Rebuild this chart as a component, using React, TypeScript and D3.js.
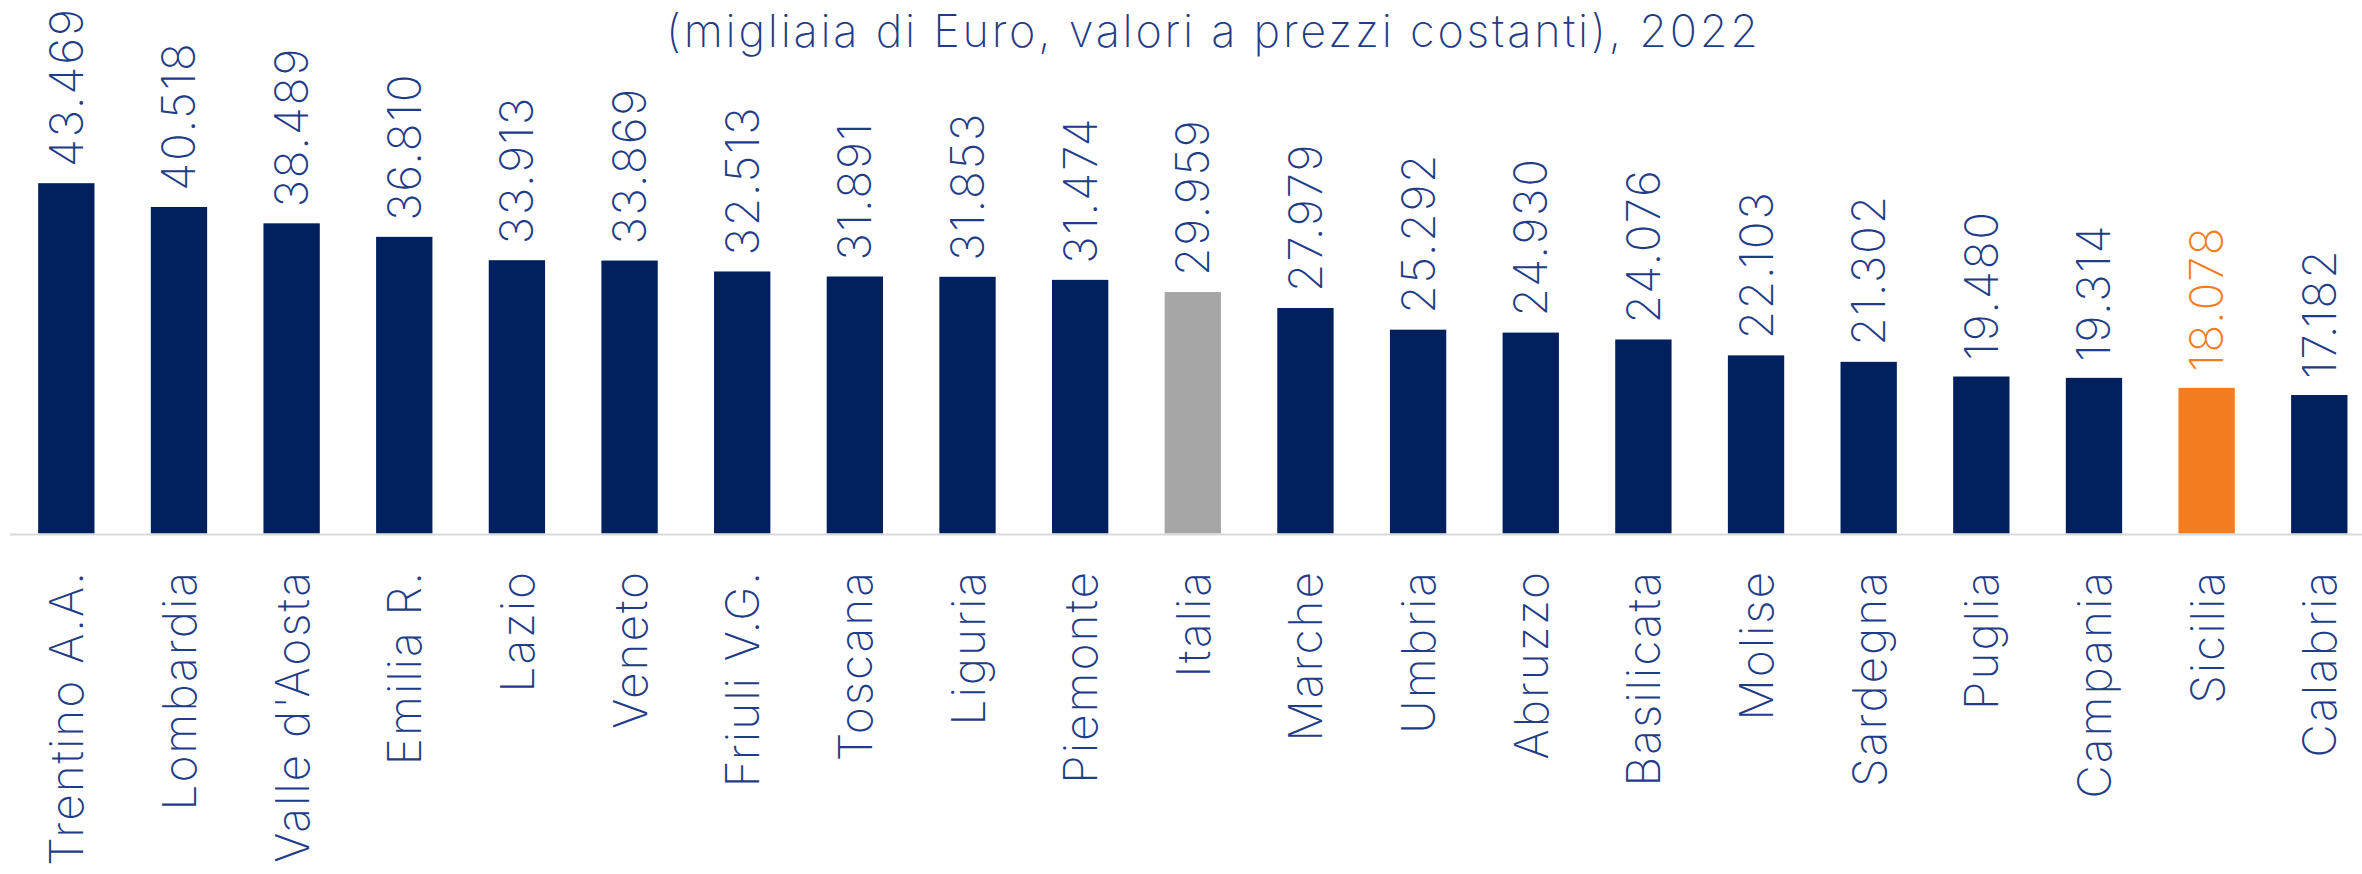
import React, { useLayoutEffect } from "react";
import * as d3 from "d3";

const categories = [
  "Trentino A.A.", "Lombardia", "Valle d'Aosta", "Emilia R.", "Lazio", "Veneto",
  "Friuli V.G.", "Toscana", "Liguria", "Piemonte", "Italia", "Marche", "Umbria",
  "Abruzzo", "Basilicata", "Molise", "Sardegna", "Puglia", "Campania", "Sicilia", "Calabria",
];
const values = [
  43469, 40518, 38489, 36810, 33913, 33869, 32513, 31891, 31853, 31474, 29959,
  27979, 25292, 24930, 24076, 22103, 21302, 19480, 19314, 18078, 17182,
];
const subtitle = "(migliaia di Euro, valori a prezzi costanti), 2022";
const highlightGrey = "Italia";
const highlightOrange = "Sicilia";

const W = 2362;
const H = 874;
const NAVY = "#021F5E";
const GREY = "#A6A6A6";
const ORANGE = "#F47C20";
const TEXT = "#1F3C86";
const FONT = "Inter, 'Open Sans', sans-serif";

const it = d3.formatLocale({ decimal: ",", thousands: ".", grouping: [3], currency: ["€", ""] });
const fmt = it.format(",d");

export default function App() {
  useLayoutEffect(() => {
    document.body.style.margin = "0";
    document.body.style.overflow = "hidden";
  }, []);

  const baseY = 533.5;
  const x = d3.scaleBand<string>().domain(categories).range([10, 2375.6]).paddingInner(0.5).paddingOuter(0.25);
  const y = d3.scaleLinear().domain([0, 66200]).range([baseY, 0]);
  const bw = x.bandwidth();

  const barColor = (c: string) => (c === highlightGrey ? GREY : c === highlightOrange ? ORANGE : NAVY);
  const labelColor = (c: string) => (c === highlightOrange ? ORANGE : TEXT);

  return (
    <svg width={W} height={H} style={{ display: "block", background: "#fff" }} fontFamily={FONT}>
      <text
        x={1212}
        y={47}
        textAnchor="middle"
        fontSize={45}
        fontWeight={200}
        fill={TEXT}
        textLength={1092}
        lengthAdjust="spacing"
      >
        {subtitle}
      </text>
      {categories.map((c, i) => {
        const cx = (x(c) as number) + bw / 2;
        const top = y(values[i]);
        return (
          <g key={c}>
            <rect x={x(c)} y={top} width={bw} height={baseY - top} fill={barColor(c)} />
            <text
              transform={`translate(${cx + 16.5},${top - 16}) rotate(-90)`}
              fontSize={46}
              fontWeight={200}
              letterSpacing={1.8}
              fill={labelColor(c)}
              textAnchor="start"
            >
              {fmt(values[i])}
            </text>
            <text
              transform={`translate(${cx + 17},570) rotate(-90)`}
              fontSize={46}
              fontWeight={200}
              letterSpacing={2}
              fill={TEXT}
              textAnchor="end"
            >
              {c}
            </text>
          </g>
        );
      })}
      <line x1={10} x2={W} y1={baseY + 1} y2={baseY + 1} stroke="#D9D9D9" strokeWidth={2} />
    </svg>
  );
}
